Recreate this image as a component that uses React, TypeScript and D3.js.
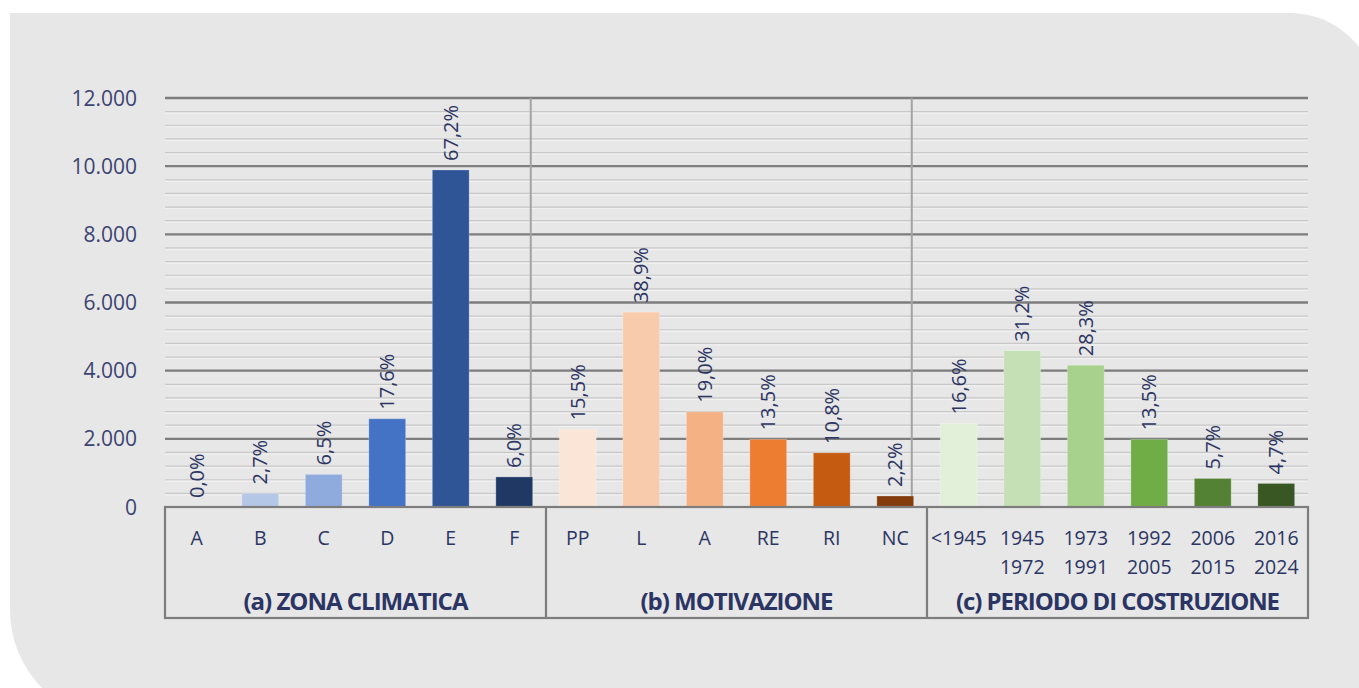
import React from "react";
import * as d3 from "d3";

// ---- data ----
const groupTitles = ["(a) ZONA CLIMATICA", "(b) MOTIVAZIONE", "(c) PERIODO DI COSTRUZIONE"];

const zonaLabels = ["A", "B", "C", "D", "E", "F"];
const zonaValues = [0, 397, 957, 2590, 9889, 883];
const zonaPct = ["0,0%", "2,7%", "6,5%", "17,6%", "67,2%", "6,0%"];
const zonaColors = ["#c9d7ef", "#b4c7e7", "#8faadc", "#4472c4", "#2f5597", "#1f3864"];

const motivLabels = ["PP", "L", "A", "RE", "RI", "NC"];
const motivValues = [2279, 5718, 2793, 1985, 1588, 323];
const motivPct = ["15,5%", "38,9%", "19,0%", "13,5%", "10,8%", "2,2%"];
const motivColors = ["#fbe5d6", "#f8cbad", "#f4b183", "#ed7d31", "#c55a11", "#843c0c"];

const periodLabels = [["<1945"], ["1945", "1972"], ["1973", "1991"], ["1992", "2005"], ["2006", "2015"], ["2016", "2024"]];
const periodValues = [2450, 4586, 4160, 1985, 838, 691];
const periodPct = ["16,6%", "31,2%", "28,3%", "13,5%", "5,7%", "4,7%"];
const periodColors = ["#e2f0d9", "#c5e0b4", "#a9d18e", "#70ad47", "#548235", "#385723"];

const yTicks = [0, 2000, 4000, 6000, 8000, 10000, 12000];
const yTickLabels = ["0", "2.000", "4.000", "6.000", "8.000", "10.000", "12.000"];

// ---- layout ----
const W = 1359;
const H = 688;
const left = 165;
const right = 1308;
const top = 98;
const bottom = 507;
const tableBottom = 618;
const titleWidths = [224, 192, 323];

const TEXT = "#2b3563";
const FONT = "'Open Sans', 'Noto Sans', sans-serif";

type Item = { key: string; lines: string[]; value: number; pct: string; color: string; group: number };

const items: Item[] = [
  ...zonaLabels.map((l, i) => ({ key: "a" + i, lines: [l], value: zonaValues[i], pct: zonaPct[i], color: zonaColors[i], group: 0 })),
  ...motivLabels.map((l, i) => ({ key: "b" + i, lines: [l], value: motivValues[i], pct: motivPct[i], color: motivColors[i], group: 1 })),
  ...periodLabels.map((l, i) => ({ key: "c" + i, lines: l, value: periodValues[i], pct: periodPct[i], color: periodColors[i], group: 2 })),
];

export default function App() {
  const x = d3
    .scaleBand<string>()
    .domain(items.map((d) => d.key))
    .range([left, right])
    .paddingInner(0.42)
    .paddingOuter(0.21);
  const step = x.step();
  const y = d3.scaleLinear().domain([0, 12000]).range([bottom, top]);

  const minorTicks = d3.range(0, 12001, 400).filter((v) => v % 2000 !== 0);

  const groups = [0, 1, 2].map((g) => {
    const gi = items.filter((d) => d.group === g);
    const x0 = left + items.indexOf(gi[0]) * step;
    const x1 = left + (items.indexOf(gi[gi.length - 1]) + 1) * step;
    return { g, x0, x1 };
  });

  const panel = `M10,13 H1290 A87,87 0 0 1 1377,100 V721 H121 A111,111 0 0 1 10,610 Z`;

  return (
    <svg width={W} height={H} style={{ display: "block", position: "absolute", left: 0, top: 0 }}>
      <rect x={0} y={0} width={W} height={H} fill="#ffffff" />
      <path d={panel} fill="#e7e7e7" />

      {/* minor gridlines */}
      {minorTicks.map((v) => (
        <g key={"m" + v}>
          <line x1={left} x2={right} y1={y(v)} y2={y(v)} stroke="#c8c8c8" strokeWidth={1.2} />
          <line x1={left} x2={right} y1={y(v) + 1.6} y2={y(v) + 1.6} stroke="#f2f2f2" strokeWidth={1} />
        </g>
      ))}
      {/* major gridlines */}
      {yTicks.filter((v) => v > 0).map((v) => (
        <line key={"M" + v} x1={left} x2={right} y1={y(v)} y2={y(v)} stroke="#7d7d7d" strokeWidth={2.4} />
      ))}

      {/* group separators inside plot */}
      {groups.slice(1).map((gr) => (
        <line
          key={"sep" + gr.g}
          x1={gr.x0 - step * 0.24}
          x2={gr.x0 - step * 0.24}
          y1={top}
          y2={bottom}
          stroke="#a3a3a3"
          strokeWidth={2}
        />
      ))}

      {/* y tick labels */}
      {yTicks.map((v, i) => (
        <text
          key={"t" + v}
          x={137}
          y={y(v)}
          dy="0.36em"
          textAnchor="end"
          fontFamily={FONT}
          fontSize={21}
          fill="#3b4472"
        >
          {yTickLabels[i]}
        </text>
      ))}

      {/* bars */}
      {items.map((d) => (
        <rect
          key={"bar" + d.key}
          x={x(d.key)!}
          y={y(d.value)}
          width={x.bandwidth()}
          height={bottom - y(d.value)}
          fill={d.color}
          stroke="#ffffff"
          strokeOpacity={0.25}
          strokeWidth={1}
        />
      ))}

      {/* data labels */}
      {items.map((d) => {
        const cx = x(d.key)! + x.bandwidth() / 2;
        const cy = y(d.value) - 9;
        return (
          <text
            key={"lab" + d.key}
            transform={`translate(${cx},${cy}) rotate(-90)`}
            dy="0.36em"
            textAnchor="start"
            fontFamily={FONT}
            fontSize={20}
            fill={TEXT}
          >
            {d.pct}
          </text>
        );
      })}

      {/* table */}
      <rect x={left} y={bottom} width={right - left} height={tableBottom - bottom} fill="none" stroke="#7d7d7d" strokeWidth={2.2} />
      {groups.slice(1).map((gr) => (
        <line key={"tsep" + gr.g} x1={gr.x0} x2={gr.x0} y1={bottom} y2={tableBottom} stroke="#7d7d7d" strokeWidth={2.2} />
      ))}

      {/* category labels */}
      {items.map((d) => {
        const cx = x(d.key)! + x.bandwidth() / 2;
        return (
          <text key={"cat" + d.key} textAnchor="middle" fontFamily={FONT} fontSize={19.5} fill={TEXT}>
            {d.lines.map((ln, j) => (
              <tspan key={j} x={cx} y={545 + j * 29}>
                {ln}
              </tspan>
            ))}
          </text>
        );
      })}

      {/* group titles */}
      {groups.map((gr) => (
        <text
          key={"gt" + gr.g}
          x={(gr.x0 + gr.x1) / 2}
          y={610}
          textAnchor="middle"
          fontFamily={FONT}
          fontWeight={700}
          fontSize={23}
          letterSpacing={-1}
          textLength={titleWidths[gr.g]}
          lengthAdjust="spacingAndGlyphs"
          fill={TEXT}
        >
          {groupTitles[gr.g]}
        </text>
      ))}
    </svg>
  );
}
